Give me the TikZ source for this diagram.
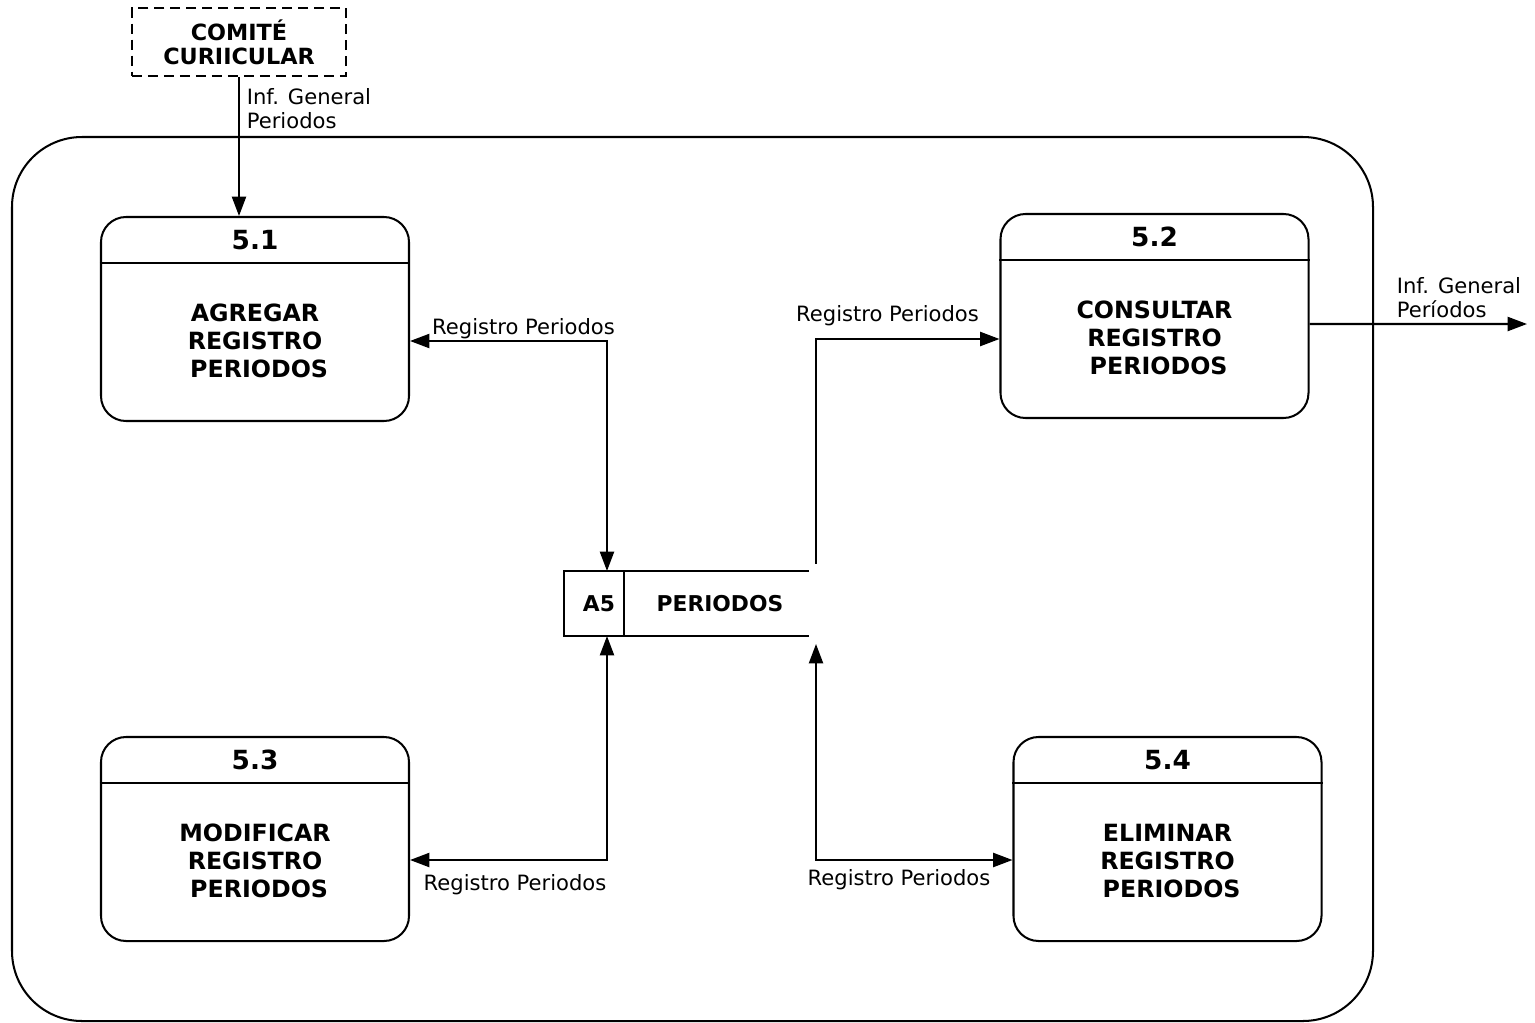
\documentclass[tikz,border=0pt]{standalone}
\usepackage{fontspec}
\setmainfont{DejaVu Sans}
\usetikzlibrary{arrows.meta}
\begin{document}
\begin{tikzpicture}[line width=1.15pt,>={Triangle[length=11pt,width=8pt]}]
        \tikzstyle{process}=[draw,rounded corners=0.5cm,minimum width=6.16cm,minimum height=4.08cm]
        \tikzstyle{pnum}=[font=\fontsize{15}{18}\selectfont\bfseries]
        \tikzstyle{ptext}=[font=\fontsize{13.5}{16}\selectfont\bfseries,align=center]
        \tikzstyle{stext}=[font=\fontsize{12.4}{14}\selectfont\bfseries]
        \tikzstyle{flow}=[font=\fontsize{12}{13.7}\selectfont,align=left]
        \tikzstyle{entity}=[draw,dash pattern=on 5.7pt off 3.4pt,minimum width=4.28cm,minimum height=1.36cm,
                            font=\fontsize{12.7}{13.7}\selectfont\bfseries,align=center]
        \useasboundingbox (0,0) rectangle (30.7,-20.46);
        % frontera del sistema
        \draw[rounded corners=1.4cm] (0.24,-2.74) rectangle (27.46,-20.42);
        % entidad externa
        \node [entity] (ext) at (4.78,-0.84) {COMITÉ\\CURIICULAR};
        % procesos
        \node [process] (p1) at (5.10,-6.38) {};
        \node [pnum] (n1) at ([yshift=-0.48cm]p1.north) {5.1};
        \draw ([yshift=-0.94cm]p1.north west) -- ([yshift=-0.94cm]p1.north east);
        \node [ptext] (t1) at ([yshift=-0.44cm]p1.center) {AGREGAR\\REGISTRO\\~PERIODOS};
        \node [process] (p2) at (23.09,-6.32) {};
        \node [pnum] (n2) at ([yshift=-0.48cm]p2.north) {5.2};
        \draw ([yshift=-0.94cm]p2.north west) -- ([yshift=-0.94cm]p2.north east);
        \node [ptext] (t2) at ([yshift=-0.44cm]p2.center) {CONSULTAR\\REGISTRO\\~PERIODOS};
        \node [process] (p3) at (5.10,-16.78) {};
        \node [pnum] (n3) at ([yshift=-0.48cm]p3.north) {5.3};
        \draw ([yshift=-0.94cm]p3.north west) -- ([yshift=-0.94cm]p3.north east);
        \node [ptext] (t3) at ([yshift=-0.44cm]p3.center) {MODIFICAR\\REGISTRO\\~PERIODOS};
        \node [process] (p4) at (23.35,-16.78) {};
        \node [pnum] (n4) at ([yshift=-0.48cm]p4.north) {5.4};
        \draw ([yshift=-0.94cm]p4.north west) -- ([yshift=-0.94cm]p4.north east);
        \node [ptext] (t4) at ([yshift=-0.44cm]p4.center) {ELIMINAR\\REGISTRO\\~PERIODOS};
        % almacen
        \node [minimum width=4.86cm,minimum height=1.26cm] (store) at (13.73,-12.07) {};
        \draw (store.north east) -- (store.north west) -- (store.south west) -- (store.south east);
        \draw ([xshift=1.2cm]store.north west) -- ([xshift=1.2cm]store.south west);
        \node [stext] (a5) at ([xshift=0.7cm]store.west) {A5};
        \node [stext] (per) at (14.40,-12.07) {PERIODOS};
        % flujos
        \coordinate (outp) at (30.54,-6.48);
        \draw[->] (ext.south) -- (ext.south |- p1.north);
        \draw[<->] ([yshift=-0.44cm]p1.east) -| ([xshift=-1.59cm]store.north);
        \draw[->] ([xshift=0.14cm,yshift=0.14cm]store.north east) |- ([yshift=-0.46cm]p2.west);
        \draw[<->] ([yshift=-0.42cm]p3.east) -| ([xshift=-1.59cm]store.south);
        \draw[<->] ([xshift=0.14cm,yshift=-0.16cm]store.south east) |- ([yshift=-0.42cm]p4.west);
        \draw[->] ([yshift=-0.16cm]p2.east) -- (outp);
        \node [flow,anchor=west] (f0) at (4.80,-2.18) {Inf. General\\Periodos};
        \node [flow] (f1) at (10.47,-6.58) {Registro Periodos};
        \node [flow] (f2) at (17.75,-6.32) {Registro Periodos};
        \node [flow] (f3) at (10.30,-17.70) {Registro Periodos};
        \node [flow] (f4) at (17.98,-17.60) {Registro Periodos};
        \node [flow,anchor=west] (f5) at (27.80,-5.95) {Inf. General\\Períodos};
\end{tikzpicture}
\end{document}
